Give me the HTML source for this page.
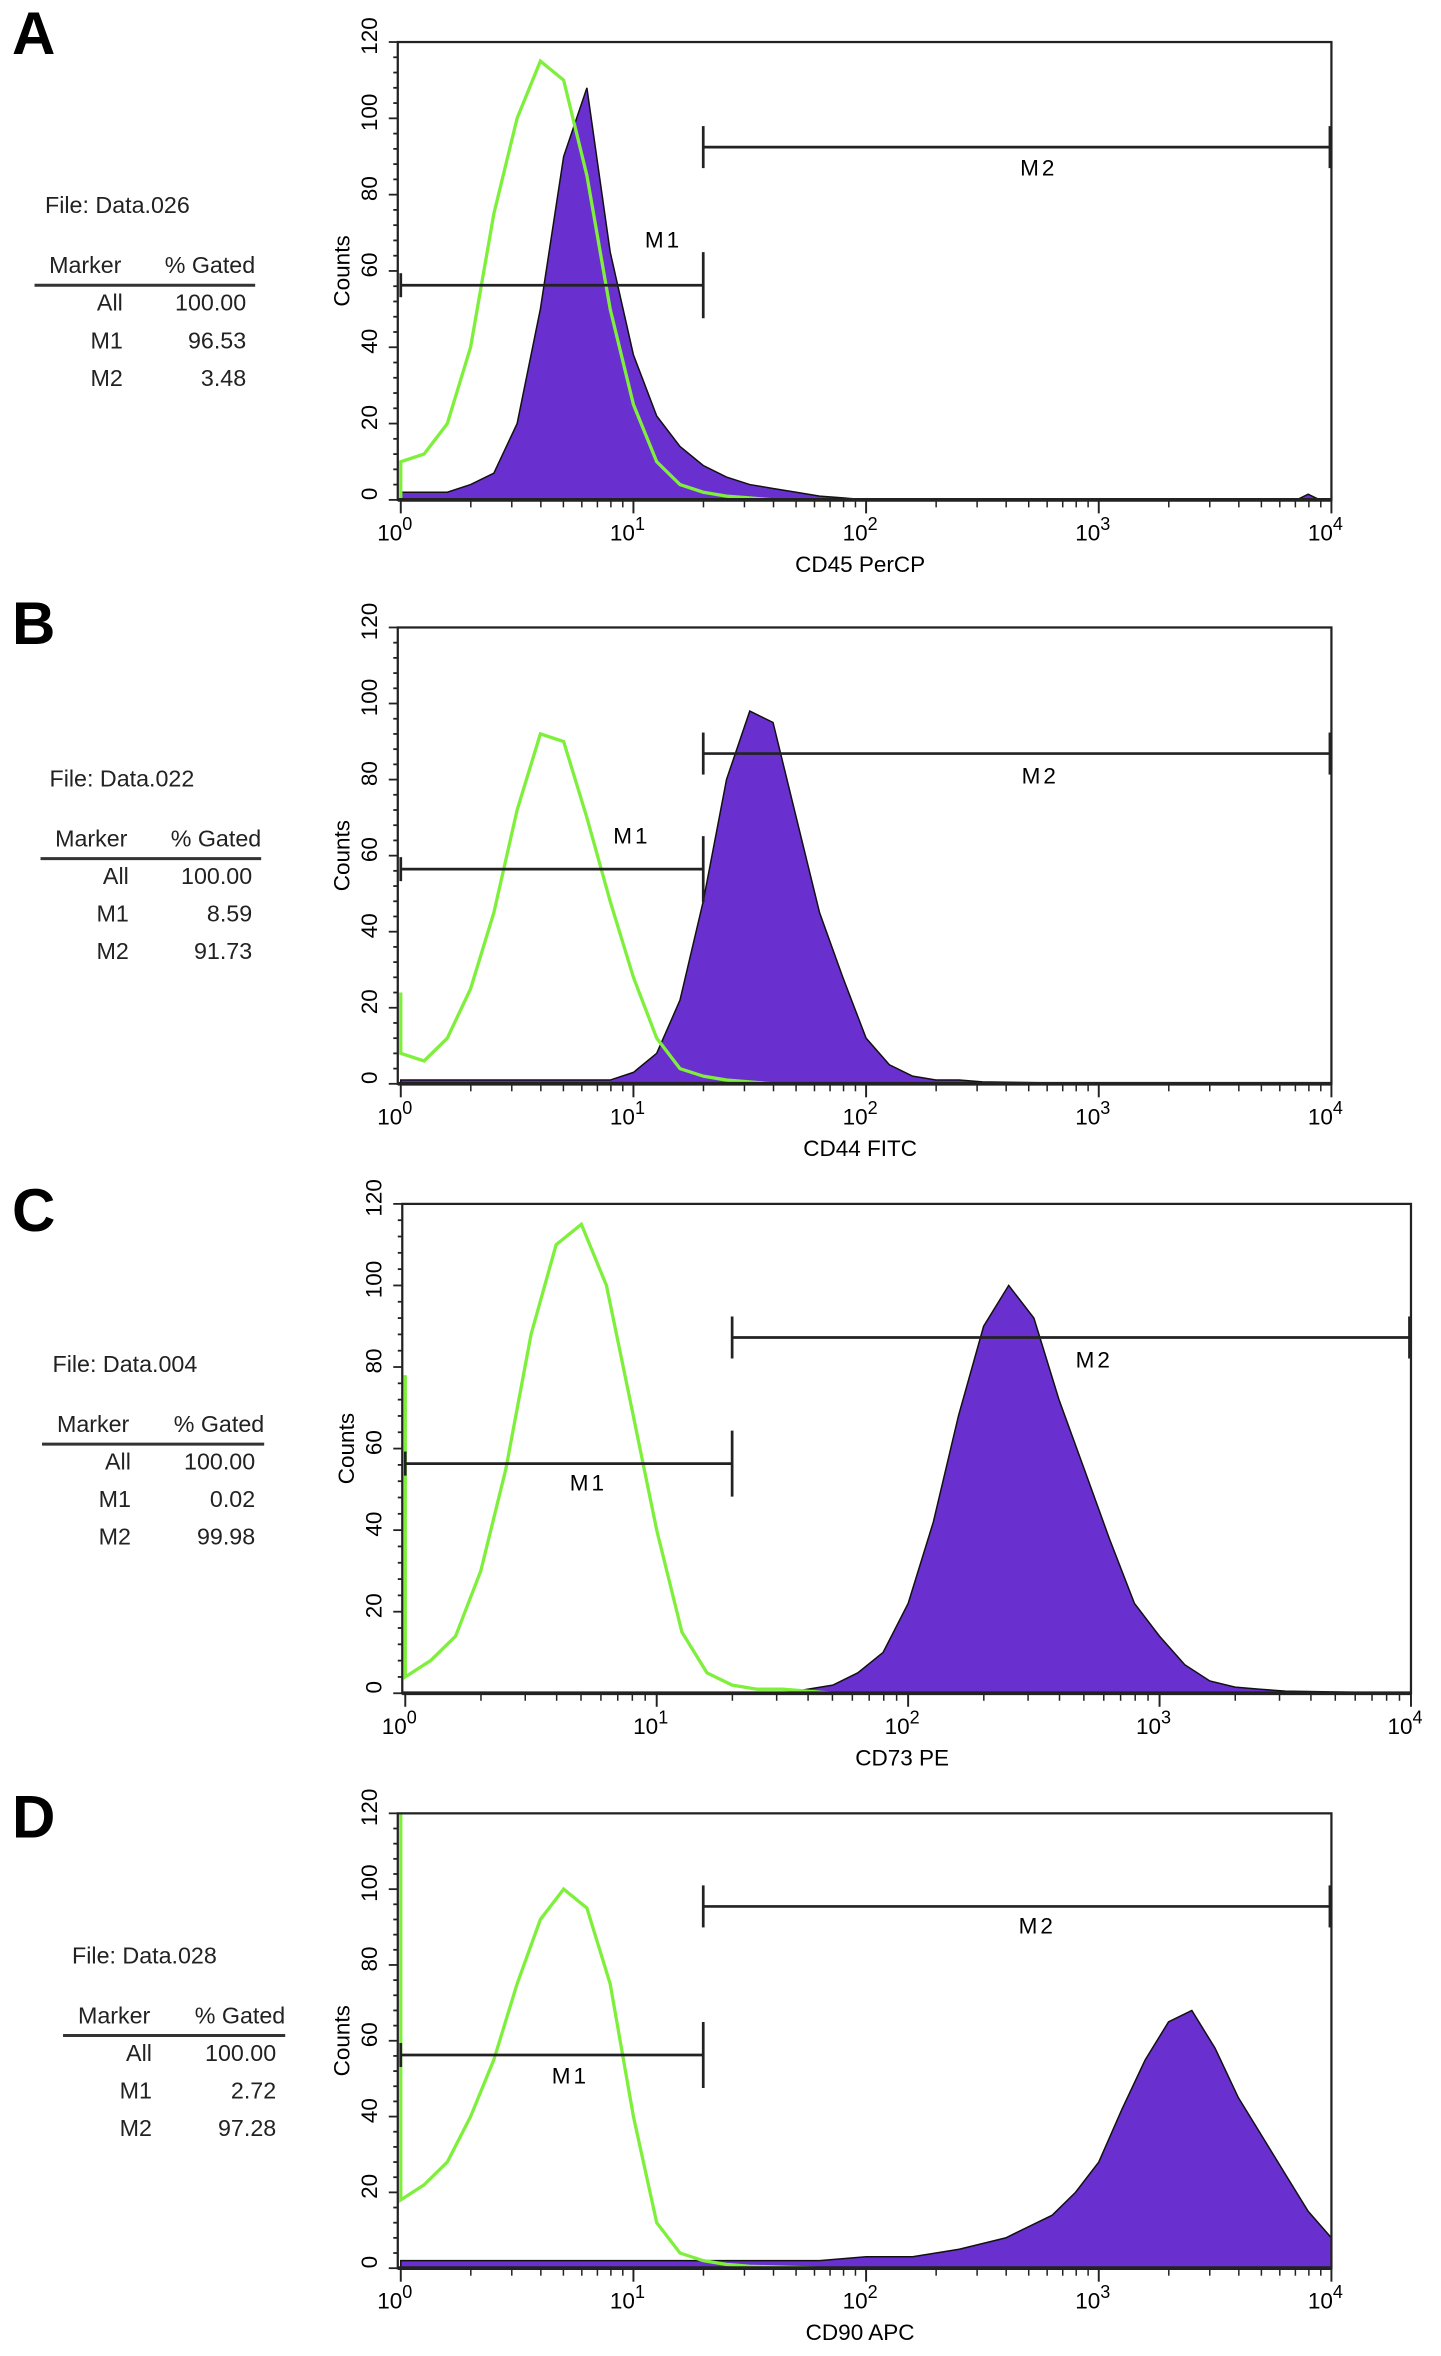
<!DOCTYPE html>
<html><head><meta charset="utf-8"><style>
html,body{margin:0;padding:0;background:#fff;}
svg{display:block;font-family:"Liberation Sans",Arial,sans-serif;}
</style></head><body>
<svg id="fig" width="1441" height="2356" viewBox="0 0 960 1569.5" preserveAspectRatio="none" xmlns="http://www.w3.org/2000/svg"></svg>
<script>
// log10 channel positions of bins
const binsA = [0,0.1,0.2,0.3,0.4,0.5,0.6,0.7,0.8,0.9,1.0,1.1,1.2,1.3,1.4,1.5,1.6,1.7,1.8,1.9,2.0,2.5,3.0,3.5,3.85,3.9,3.95,4.0];
const purpleA = [2,2,2,4,7,20,50,90,108,65,38,22,14,9,6,4,3,2,1,0.5,0,0,0,0,0,1.5,0,0];
const greenA  = [10,12,20,40,75,100,115,110,85,50,25,10,4,2,1,0.5,0,0,0,0,0,0,0,0,0,0,0,0];
const binsB = [0,0.1,0.2,0.3,0.4,0.5,0.6,0.7,0.8,0.9,1.0,1.1,1.2,1.3,1.4,1.5,1.6,1.7,1.8,1.9,2.0,2.1,2.2,2.3,2.4,2.5,3.0,4.0];
const purpleB = [1,1,1,1,1,1,1,1,1,1,3,8,22,48,80,98,95,70,45,28,12,5,2,1,1,0.5,0,0];
const greenB  = [8,6,12,25,45,72,92,90,70,48,28,12,4,2,1,0.5,0,0,0,0,0,0,0,0,0,0,0,0];
const binsC = [0,0.1,0.2,0.3,0.4,0.5,0.6,0.7,0.8,0.9,1.0,1.1,1.2,1.3,1.4,1.5,1.6,1.7,1.8,1.9,2.0,2.1,2.2,2.3,2.4,2.5,2.6,2.7,2.8,2.9,3.0,3.1,3.2,3.3,3.4,3.5,4.0];
const purpleC = [0,0,0,0,0,0,0,0,0,0,0,0,0,0,0,0,1,2,5,10,22,42,68,90,100,92,72,55,38,22,14,7,3,1.5,1,0.5,0];
const greenC  = [4,8,14,30,55,88,110,115,100,70,40,15,5,2,1,1,0.5,0,0,0,0,0,0,0,0,0,0,0,0,0,0,0,0,0,0,0,0];
const binsD = [0,0.1,0.2,0.3,0.4,0.5,0.6,0.7,0.8,0.9,1.0,1.1,1.2,1.3,1.4,1.5,1.8,2.0,2.2,2.4,2.6,2.8,2.9,3.0,3.1,3.2,3.3,3.4,3.5,3.6,3.7,3.8,3.9,4.0];
const purpleD = [2,2,2,2,2,2,2,2,2,2,2,2,2,2,2,2,2,3,3,5,8,14,20,28,42,55,65,68,58,45,35,25,15,8];
const greenD  = [18,22,28,40,55,75,92,100,95,75,40,12,4,2,1,0.5,0,0,0,0,0,0,0,0,0,0,0,0,0,0,0,0,0,0];
const yTicks = [0,20,40,60,80,100,120];
const xDecades = [0,1,2,3,4];

const NS="http://www.w3.org/2000/svg";
const svg=document.getElementById('fig');
function mk(tag,attrs,parent){const e=document.createElementNS(NS,tag);for(const k in attrs)e.setAttribute(k,attrs[k]);(parent||svg).appendChild(e);return e;}

const panels=[
 {id:'a',letter:'A',ly:22,file:'Data.026',fx:30,fy:137,tx:23,tw:147,ty:177,rows:[['All','100.00'],['M1','96.53'],['M2','3.48']],
  x0:265,x1:887,top:28,bot:333,m1y:190,m2y:98,gate:1.3,m1l:[442,160],m2l:[692,112],title:'CD45 PerCP',bins:binsA,p:purpleA,g:greenA,spike:0},
 {id:'b',letter:'B',ly:415,file:'Data.022',fx:33,fy:519,tx:27,tw:147,ty:559,rows:[['All','100.00'],['M1','8.59'],['M2','91.73']],
  x0:265,x1:887,top:418,bot:722,m1y:579,m2y:502,gate:1.3,m1l:[421,557],m2l:[693,517],title:'CD44 FITC',bins:binsB,p:purpleB,g:greenB,spike:24},
 {id:'c',letter:'C',ly:806,file:'Data.004',fx:35,fy:909,tx:28,tw:148,ty:949,rows:[['All','100.00'],['M1','0.02'],['M2','99.98']],
  x0:268,x1:940,top:802,bot:1128,m1y:975,m2y:891,gate:1.3,m1l:[392,988],m2l:[729,906],title:'CD73 PE',bins:binsC,p:purpleC,g:greenC,spike:78},
 {id:'d',letter:'D',ly:1210,file:'Data.028',fx:48,fy:1303,tx:42,tw:148,ty:1343,rows:[['All','100.00'],['M1','2.72'],['M2','97.28']],
  x0:265,x1:887,top:1208,bot:1511,m1y:1369,m2y:1270,gate:1.3,m1l:[380,1383],m2l:[691,1283],title:'CD90 APC',bins:binsD,p:purpleD,g:greenD,spike:120}
];

panels.forEach(P=>{
  const g=mk('g',{});
  
  
  const xs=v=>P.x0+2+(P.x1-P.x0-2)*v/4;
  const ys=v=>P.bot-(P.bot-P.top)*v/120;
  let t=mk('text',{x:8,y:P.ly+14,'font-size':40,'font-weight':'bold'},g);t.textContent=P.letter;
  
  const tb=mk('g',{'font-size':15.5,fill:'#222'},g);
  
  t=mk('text',{x:P.fx,y:P.fy+5},tb);t.textContent='File: '+P.file;
  t=mk('text',{x:P.tx+P.tw*0.23,y:P.ty+5,'text-anchor':'middle'},tb);t.textContent='Marker';
  t=mk('text',{x:P.tx+P.tw,y:P.ty+5,'text-anchor':'end'},tb);t.textContent='% Gated';
  mk('line',{x1:P.tx,x2:P.tx+P.tw,y1:P.ty+13,y2:P.ty+13,stroke:'#333','stroke-width':2},tb);
  P.rows.forEach((r,i)=>{
    let a=mk('text',{x:P.tx+P.tw*0.4,y:P.ty+30+i*25,'text-anchor':'end'},tb);a.textContent=r[0];
    let b=mk('text',{x:P.tx+P.tw-6,y:P.ty+30+i*25,'text-anchor':'end'},tb);b.textContent=r[1];
  });
  let d='M'+xs(P.bins[0])+','+ys(0);
  P.bins.forEach((b,i)=>{d+=' L'+xs(b).toFixed(1)+','+ys(P.p[i]).toFixed(1);});
  d+=' L'+xs(P.bins[P.bins.length-1])+','+ys(0)+' Z';
  const pa=mk('path',{d:d,fill:'#6a2fcf',stroke:'#111','stroke-width':1},g);
  
  let gd='M'+xs(0)+','+ys(P.spike);
  P.bins.forEach((b,i)=>{gd+=' L'+xs(b).toFixed(1)+','+ys(P.g[i]).toFixed(1);});
  const gl=mk('path',{d:gd,fill:'none',stroke:'#7ef03c','stroke-width':2.2},g);
  
  const fr=mk('rect',{x:P.x0,y:P.top,width:P.x1-P.x0,height:P.bot-P.top,fill:'none',stroke:'#222','stroke-width':1.5},g);
  
  mk('line',{x1:P.x0,x2:P.x1,y1:P.bot,y2:P.bot,stroke:'#222','stroke-width':2.5},g);
  for(let v=0;v<=120;v+=4){const L=(v%20===0)?6:3;mk('line',{x1:P.x0-L,x2:P.x0,y1:ys(v),y2:ys(v),stroke:'#222','stroke-width':1.2},g);}
  yTicks.forEach(v=>{
    const tt=mk('text',{x:0,y:0,'font-size':15,'text-anchor':'middle',transform:`translate(${P.x0-14},${ys(v)-4}) rotate(-90)`},g);
    tt.textContent=v;
    
  });
  const yl=mk('text',{'font-size':15,'text-anchor':'middle',transform:`translate(${P.x0-32},${(P.top+P.bot)/2}) rotate(-90)`},g);
  yl.textContent='Counts';
  xDecades.forEach(dd=>{
    mk('line',{x1:xs(dd),x2:xs(dd),y1:P.bot,y2:P.bot+9,stroke:'#222','stroke-width':1.3},g);
    if(dd<4)for(let m=2;m<10;m++){const xx=xs(dd+Math.log10(m));mk('line',{x1:xx,x2:xx,y1:P.bot,y2:P.bot+5,stroke:'#222','stroke-width':1},g);}
    const tx=mk('text',{x:xs(dd)-4,y:P.bot+27,'font-size':15,'text-anchor':'middle'},g);
    tx.textContent='10';
    const sp=mk('tspan',{dy:-7,'font-size':12},tx);sp.textContent=dd;
    
  });
  const xt=mk('text',{x:(P.x0+P.x1)/2-3,y:P.bot+48,'font-size':15,'text-anchor':'middle'},g);
  xt.textContent=P.title;
  const gx=xs(P.gate);
  const m1=mk('g',{stroke:'#222','stroke-width':1.8},g);
  
  mk('line',{x1:P.x0+2,x2:gx,y1:P.m1y,y2:P.m1y},m1);
  mk('line',{x1:gx,x2:gx,y1:P.m1y-22,y2:P.m1y+22},m1);
  mk('line',{x1:P.x0+2,x2:P.x0+2,y1:P.m1y-8,y2:P.m1y+8},m1);
  const m2=mk('g',{stroke:'#222','stroke-width':1.8},g);
  
  mk('line',{x1:gx,x2:P.x1,y1:P.m2y,y2:P.m2y},m2);
  mk('line',{x1:gx,x2:gx,y1:P.m2y-14,y2:P.m2y+14},m2);
  mk('line',{x1:P.x1-1,x2:P.x1-1,y1:P.m2y-14,y2:P.m2y+14},m2);
  let l1=mk('text',{x:P.m1l[0],y:P.m1l[1]+5,'font-size':15,'text-anchor':'middle','letter-spacing':2},g);l1.textContent='M1';
  
  let l2=mk('text',{x:P.m2l[0],y:P.m2l[1]+5,'font-size':15,'text-anchor':'middle','letter-spacing':2},g);l2.textContent='M2';
  
});
</script>
</body></html>
